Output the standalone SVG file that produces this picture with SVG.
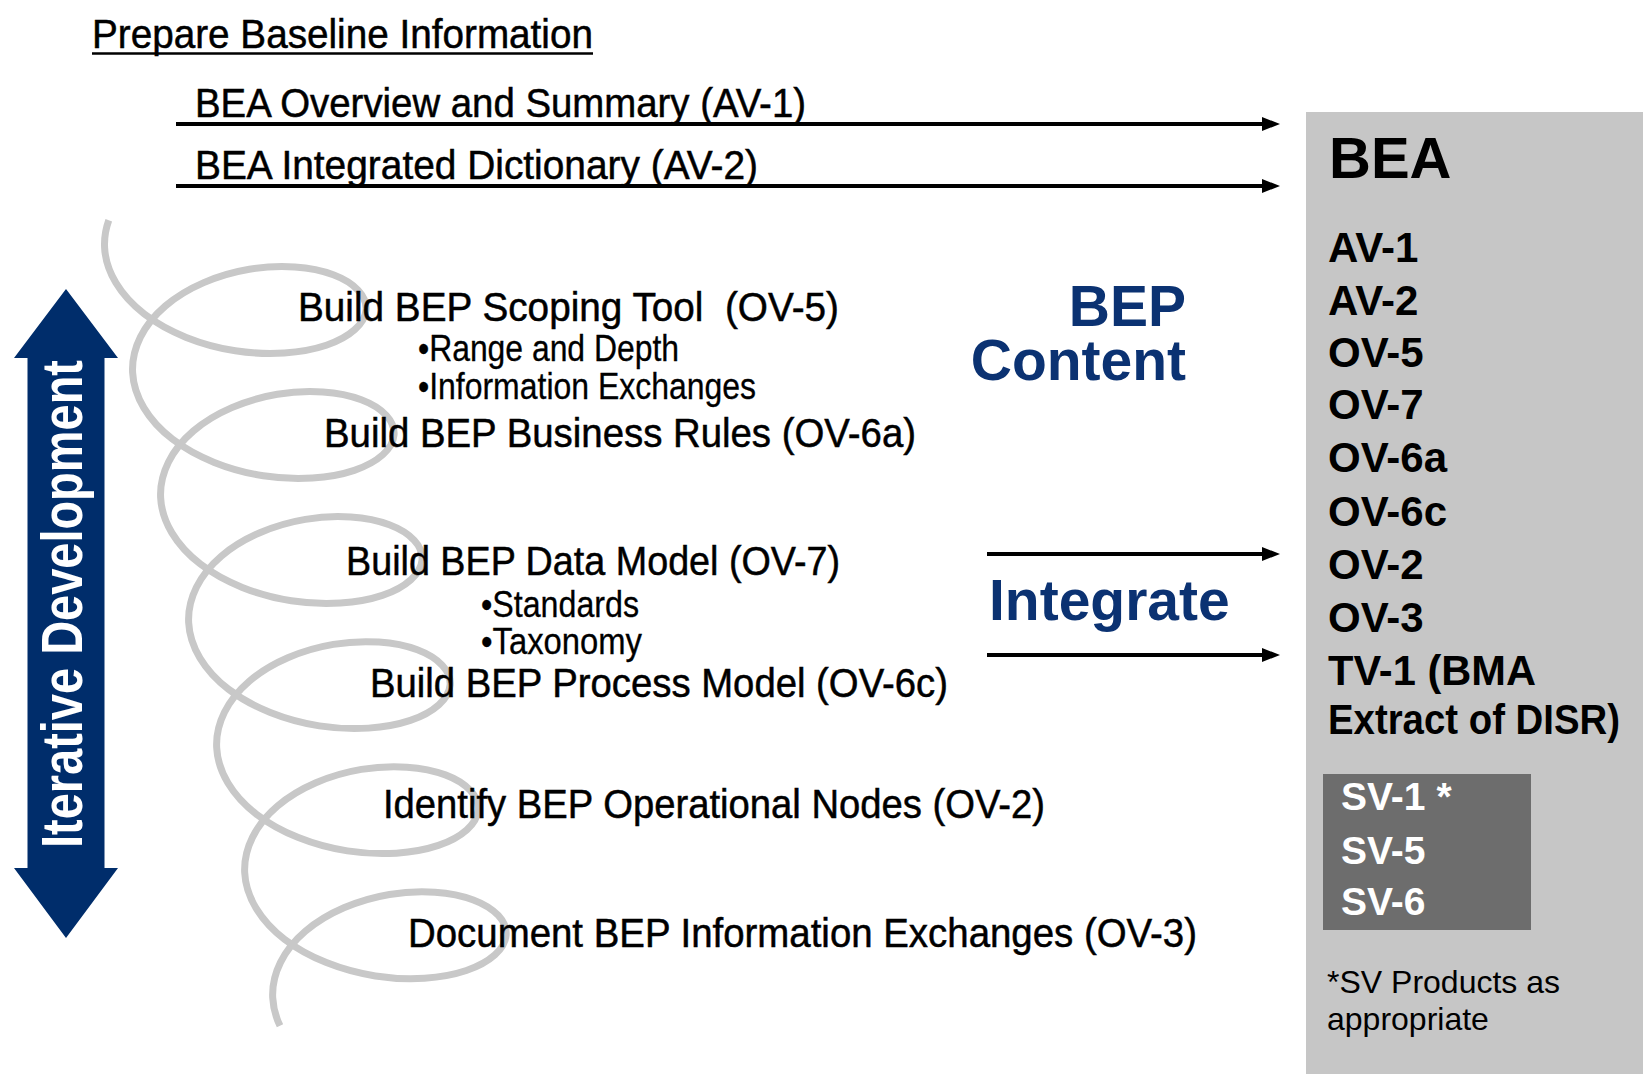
<svg xmlns="http://www.w3.org/2000/svg" width="1643" height="1074" viewBox="0 0 1643 1074">
<style>
.n{font-family:"Liberation Sans Narrow","Liberation Sans",Arial,sans-serif;font-size:40px;fill:#000;stroke:#000;stroke-width:0.5;white-space:pre}
.s{font-family:"Liberation Sans Narrow","Liberation Sans",Arial,sans-serif;font-size:36px;fill:#000;stroke:#000;stroke-width:0.3}
.r{font-family:"Liberation Sans",Arial,sans-serif;font-size:42px;font-weight:bold;fill:#000}
.sv{font-family:"Liberation Sans",Arial,sans-serif;font-size:39px;font-weight:bold;fill:#fff}
.blue{font-family:"Liberation Sans",Arial,sans-serif;font-size:57px;font-weight:bold;fill:#0b3272}
.note{font-family:"Liberation Sans",Arial,sans-serif;font-size:32px;fill:#000}
.conn{stroke:#000;stroke-width:4;fill:none;marker-end:url(#ah)}
</style>
<defs>
<marker id="ah" markerUnits="userSpaceOnUse" markerWidth="18" markerHeight="14" viewBox="0 0 18 14" refX="0" refY="7" orient="auto">
<path d="M0,0 L18,7 L0,14 Z" fill="#000"/>
</marker>
</defs>
<rect width="1643" height="1074" fill="#fff"/>

<g id="bea-panel">
<rect x="1306" y="112" width="337" height="962" fill="#c6c6c6"/>
<text class="r" x="1329" y="178" style="font-size:58px">BEA</text>
<text class="r" x="1328" y="262">AV-1</text>
<text class="r" x="1328" y="315">AV-2</text>
<text class="r" x="1328" y="367">OV-5</text>
<text class="r" x="1328" y="419">OV-7</text>
<text class="r" x="1328" y="472">OV-6a</text>
<text class="r" x="1328" y="526">OV-6c</text>
<text class="r" x="1328" y="579">OV-2</text>
<text class="r" x="1328" y="632">OV-3</text>
<text class="r" x="1328" y="685" textLength="208" lengthAdjust="spacingAndGlyphs">TV-1 (BMA</text>
<text class="r" x="1328" y="734" textLength="292" lengthAdjust="spacingAndGlyphs">Extract of DISR)</text>
</g>

<g id="sv-box">
<rect x="1323" y="774" width="208" height="156" fill="#6d6d6d"/>
<text class="sv" x="1341" y="810">SV-1 *</text>
<text class="sv" x="1341" y="864">SV-5</text>
<text class="sv" x="1341" y="915">SV-6</text>
</g>

<g id="sv-note">
<text class="note" x="1327" y="993">*SV Products as</text>
<text class="note" x="1327" y="1030">appropriate</text>
</g>

<g id="spiral">
<path fill="none" stroke="#c8c8c8" stroke-width="7" stroke-linecap="butt" d="M108.78,220.23 c-3.21,8.87 -4.64,18.06 -4.19,27.25
c1.17,24.06 15.66,48 39.73,66.54 c24.07,18.54 57.43,31.51 90.98,36.72 c33.55,5.21 66.9,2.66 90.97,-5.46 c24.07,-8.12 38.56,-21.64 39.73,-35.28 c1.17,-13.64 -11,-27.16 -32.73,-35.28 c-21.73,-8.12 -52.74,-10.67 -83.96,-5.46 c-31.22,5.21 -62.24,18.18 -83.97,36.72 c-21.73,18.54 -33.9,42.48 -32.73,66.54
c1.17,24.06 15.66,48 39.73,66.54 c24.07,18.54 57.43,31.51 90.98,36.72 c33.55,5.21 66.9,2.66 90.97,-5.46 c24.07,-8.12 38.56,-21.64 39.73,-35.28 c1.17,-13.64 -11,-27.16 -32.73,-35.28 c-21.73,-8.12 -52.74,-10.67 -83.96,-5.46 c-31.22,5.21 -62.24,18.18 -83.97,36.72 c-21.73,18.54 -33.9,42.48 -32.73,66.54
c1.17,24.06 15.66,48 39.73,66.54 c24.07,18.54 57.43,31.51 90.98,36.72 c33.55,5.21 66.9,2.66 90.97,-5.46 c24.07,-8.12 38.56,-21.64 39.73,-35.28 c1.17,-13.64 -11,-27.16 -32.73,-35.28 c-21.73,-8.12 -52.74,-10.67 -83.96,-5.46 c-31.22,5.21 -62.24,18.18 -83.97,36.72 c-21.73,18.54 -33.9,42.48 -32.73,66.54
c1.17,24.06 15.66,48 39.73,66.54 c24.07,18.54 57.43,31.51 90.98,36.72 c33.55,5.21 66.9,2.66 90.97,-5.46 c24.07,-8.12 38.56,-21.64 39.73,-35.28 c1.17,-13.64 -11,-27.16 -32.73,-35.28 c-21.73,-8.12 -52.74,-10.67 -83.96,-5.46 c-31.22,5.21 -62.24,18.18 -83.97,36.72 c-21.73,18.54 -33.9,42.48 -32.73,66.54
c1.17,24.06 15.66,48 39.73,66.54 c24.07,18.54 57.43,31.51 90.98,36.72 c33.55,5.21 66.9,2.66 90.97,-5.46 c24.07,-8.12 38.56,-21.64 39.73,-35.28 c1.17,-13.64 -11,-27.16 -32.73,-35.28 c-21.73,-8.12 -52.74,-10.67 -83.96,-5.46 c-31.22,5.21 -62.24,18.18 -83.97,36.72 c-21.73,18.54 -33.9,42.48 -32.73,66.54
c1.17,24.06 15.66,48 39.73,66.54 c24.07,18.54 57.43,31.51 90.98,36.72 c33.55,5.21 66.9,2.66 90.97,-5.46 c24.07,-8.12 38.56,-21.64 39.73,-35.28 c1.17,-13.64 -11,-27.16 -32.73,-35.28 c-21.73,-8.12 -52.74,-10.67 -83.96,-5.46 c-31.22,5.21 -62.24,18.18 -83.97,36.72 c-21.73,18.54 -33.9,42.48 -32.73,66.54
c0.46,9.5 2.92,19 7.28,28.14"/>
</g>

<g id="iterative-development">
<polygon points="66,289 118,358 104.5,358 104.5,868 118,868 66,938 14,868 27.5,868 27.5,358 14,358" fill="#002d6b"/>
<text transform="translate(82,848) rotate(-90)" x="0" y="0" textLength="488" lengthAdjust="spacingAndGlyphs" style="font-family:'Liberation Sans Narrow','Liberation Sans',Arial,sans-serif;font-size:58px;font-weight:bold;fill:#fff">Iterative Development</text>
</g>

<g id="baseline">
<text class="n" x="92" y="48" textLength="501" lengthAdjust="spacingAndGlyphs">Prepare Baseline Information</text>
<line x1="92" y1="53.5" x2="593" y2="53.5" stroke="#000" stroke-width="2.5"/>
</g>
<g id="av1"><text class="n" x="195" y="117" textLength="611" lengthAdjust="spacingAndGlyphs">BEA Overview and Summary (AV-1)</text></g>
<g id="av2"><text class="n" x="195" y="179" textLength="563" lengthAdjust="spacingAndGlyphs">BEA Integrated Dictionary (AV-2)</text></g>

<g id="ov5">
<text class="n" x="298" y="321" textLength="541" lengthAdjust="spacingAndGlyphs">Build BEP Scoping Tool  (OV-5)</text>
<text class="s" x="418" y="361" textLength="261" lengthAdjust="spacingAndGlyphs">•Range and Depth</text>
<text class="s" x="418" y="399" textLength="338" lengthAdjust="spacingAndGlyphs">•Information Exchanges</text>
</g>
<g id="ov6a"><text class="n" x="324" y="447" textLength="592" lengthAdjust="spacingAndGlyphs">Build BEP Business Rules (OV-6a)</text></g>
<g id="ov7">
<text class="n" x="346" y="575" textLength="494" lengthAdjust="spacingAndGlyphs">Build BEP Data Model (OV-7)</text>
<text class="s" x="481" y="617" textLength="158" lengthAdjust="spacingAndGlyphs">•Standards</text>
<text class="s" x="481" y="654" textLength="161" lengthAdjust="spacingAndGlyphs">•Taxonomy</text>
</g>
<g id="ov6c"><text class="n" x="370" y="697" textLength="578" lengthAdjust="spacingAndGlyphs">Build BEP Process Model (OV-6c)</text></g>
<g id="ov2"><text class="n" x="383" y="818" textLength="662" lengthAdjust="spacingAndGlyphs">Identify BEP Operational Nodes (OV-2)</text></g>
<g id="ov3"><text class="n" x="408" y="947" textLength="789" lengthAdjust="spacingAndGlyphs">Document BEP Information Exchanges (OV-3)</text></g>

<g id="bep-content">
<text class="blue" x="1186" y="326" text-anchor="end">BEP</text>
<text class="blue" x="1186" y="380" text-anchor="end">Content</text>
</g>
<g id="integrate"><text class="blue" x="989" y="620">Integrate</text></g>

<g id="connectors">
<line class="conn" x1="176" y1="124" x2="1262" y2="124"/>
<line class="conn" x1="176" y1="186" x2="1262" y2="186"/>
<line class="conn" x1="987" y1="554" x2="1262" y2="554"/>
<line class="conn" x1="987" y1="655" x2="1262" y2="655"/>
</g>
</svg>
